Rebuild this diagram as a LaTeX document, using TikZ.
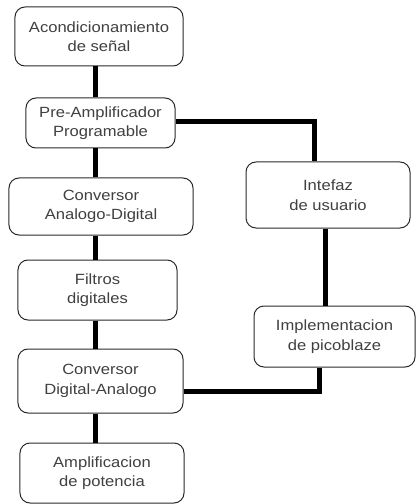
\documentclass[tikz,border=0pt]{standalone}
\usepackage{fontspec}
\setmainfont{Liberation Sans}[FakeStretch=1.12]
\usepackage{tikz}
\usetikzlibrary{positioning, calc}
\definecolor{TextGray}{HTML}{404040}
\definecolor{LineGray}{HTML}{2A2A2A}
\tikzset{
  blockbox/.style={rectangle, rounded corners=10bp, draw=LineGray, line width=1bp, fill=white, text=TextGray, align=center, font=\fontsize{14.8bp}{19.5bp}\selectfont, inner sep=0pt},
  wire/.style={line width=5bp, black},
}

\begin{document}
\begin{tikzpicture}[x=1bp, y=-1bp]
  \useasboundingbox (0,0) rectangle (417,504);

  % Left column
  \node[blockbox, minimum width=168bp, minimum height=59bp] (acond) at (99,36.5) {Acondicionamiento\\de señal};
  \node[blockbox, minimum width=149bp, minimum height=50bp] (preamp) at (100.5,123) {Pre-Amplificador\\Programable};
  \node[blockbox, minimum width=184bp, minimum height=57bp] (convad) at (101,206.5) {Conversor\\Analogo-Digital};
  \node[blockbox, minimum width=159bp, minimum height=60bp] (filtros) at (97.5,290) {Filtros\\digitales};
  \node[blockbox, minimum width=165bp, minimum height=64bp] (convda) at (100.5,381) {Conversor\\Digital-Analogo};
  \node[blockbox, minimum width=164bp, minimum height=60bp] (amplif) at (102,473) {Amplificacion\\de potencia};

  % Right column
  \node[blockbox, minimum width=164bp, minimum height=66bp] (interfaz) at (328,195) {Intefaz\\de usuario};
  \node[blockbox, minimum width=161bp, minimum height=61bp] (picoblaze) at (334.5,336.5) {Implementacion\\de picoblaze};

  % Wires
  \coordinate (lcol) at (95,0);
  \coordinate (rcola) at (314,0);
  \coordinate (rcolb) at (325,0);
  \coordinate (rcolc) at (319,0);
  \draw[wire] (acond.south -| lcol) -- (preamp.north -| lcol);
  \draw[wire] (preamp.south -| lcol) -- (convad.north -| lcol);
  \draw[wire] (convad.south -| lcol) -- (filtros.north -| lcol);
  \draw[wire] (filtros.south -| lcol) -- (convda.north -| lcol);
  \draw[wire] (convda.south -| lcol) -- (amplif.north -| lcol);
  \draw[wire] ([yshift=1bp]preamp.east) -| (interfaz.north -| rcola);
  \draw[wire] (interfaz.south -| rcolb) -- (picoblaze.north -| rcolb);
  \draw[wire] ([yshift=-10bp]convda.east) -| (picoblaze.south -| rcolc);
\end{tikzpicture}
\end{document}
